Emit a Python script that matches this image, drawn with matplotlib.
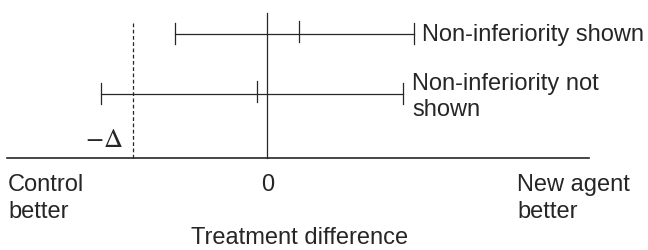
import matplotlib.pyplot as plt

# Non-inferiority diagram: two confidence intervals for the treatment difference
# x units: margin delta = 1
labels = ["Non-inferiority shown", "Non-inferiority not\nshown"]
lower = [-0.686, -1.236]
estimate = [0.238, -0.074]
upper = [1.086, 1.008]
delta = 1.0

plt.rcParams['font.family'] = ['Liberation Sans', 'DejaVu Sans']
plt.rcParams['mathtext.fontset'] = 'stix'

fig = plt.figure(figsize=(6.48, 2.5), dpi=100)
ax = fig.add_axes([0, 0, 1, 1])
ax.set_xlim(-1.986, 2.828)
ax.set_ylim(250, 0)   # y in pixel rows, top down
ax.axis('off')

col = '#262626'
fs = 17
gap = 26.5   # distance between text lines
rows = [33.7, 93.7]
base_y = 157.7

# baseline and reference lines
ax.plot([-1.934, 2.39], [base_y, base_y], color=col, lw=1.2)
ax.plot([0, 0], [12.7, base_y], color=col, lw=0.9)
ax.plot([-delta, -delta], [22.7, base_y], color=col, lw=0.9, ls=(0, (3, 2)))

text_x = [1.149, 1.075]
text_y = [41.5, 90]
for y, lo, est, hi, lab, tx, ty in zip(rows, lower, estimate, upper, labels, text_x, text_y):
    ax.plot([lo, hi], [y, y], color=col, lw=0.9)
    ax.plot([lo, lo], [y - 11, y + 10.5], color=col, lw=0.9)
    ax.plot([hi, hi], [y - 11, y + 10.5], color=col, lw=0.9)
    ax.plot([est, est], [y - 13, y + 8], color=col, lw=0.9)
    for i, line in enumerate(lab.split('\n')):
        ax.text(tx, ty + i * gap, line, ha='left', va='baseline', fontsize=fs, color=col)

ax.text(-1.07, 147, r'$-\Delta$', ha='right', va='baseline', fontsize=19, color=col)

for i, line in enumerate(['Control', 'better']):
    ax.text(-1.926, 191 + i * gap, line, ha='left', va='baseline', fontsize=fs, color=col)
for i, line in enumerate(['New agent', 'better']):
    ax.text(1.855, 191 + i * gap, line, ha='left', va='baseline', fontsize=fs, color=col)
ax.text(0, 191, '0', ha='center', va='baseline', fontsize=fs, color=col)
ax.text(0.243, 244.5, 'Treatment difference', ha='center', va='baseline', fontsize=fs, color=col)

fig.savefig('out.png', dpi=100)
